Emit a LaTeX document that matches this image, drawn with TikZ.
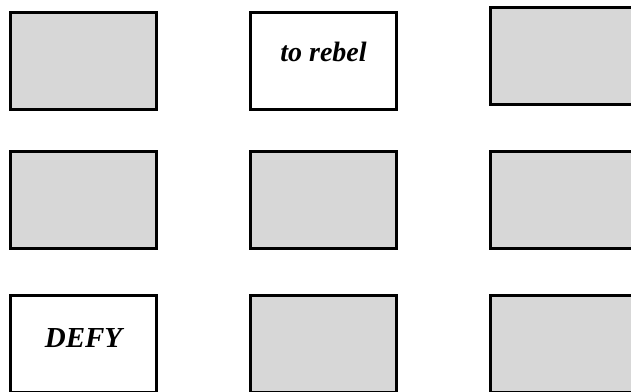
\documentclass[tikz,border=0pt]{standalone}
\usepackage{fontspec}
\setmainfont{Liberation Serif}
\usepackage{tikz}
\usetikzlibrary{positioning}
\definecolor{cellgray}{RGB}{215,215,215}

\begin{document}
\begin{tikzpicture}[x=1pt, y=-1pt,
    cell/.style={draw=black, line width=3pt, minimum width=146pt,
      minimum height=97pt, inner sep=0pt},
    blank/.style={cell, fill=cellgray},
    word/.style={cell, fill=white}]
  \useasboundingbox (0,0) rectangle (631,391);
  % --- top row ---
  \node[blank] (c11) at (83.5,61) {};
  \node[word, font=\fontsize{28}{32}\selectfont\bfseries\itshape,
    text height=10pt, text depth=10pt] (c12) at (323.5,61) {to rebel};
  \node[blank] (c13) at (563.5,56) {};
  % --- middle row ---
  \node[blank] (c21) at (83.5,200) {};
  \node[blank] (c22) at (323.5,200) {};
  \node[blank] (c23) at (563.5,200) {};
  % --- bottom row (cut off by the page) ---
  \node[word, font=\fontsize{29}{34}\selectfont\bfseries\itshape,
    text height=14pt, text depth=8pt] (c31) at (83.5,344) {DEFY};
  \node[blank] (c32) at (323.5,344) {};
  \node[blank] (c33) at (563.5,344) {};
\end{tikzpicture}
\end{document}
